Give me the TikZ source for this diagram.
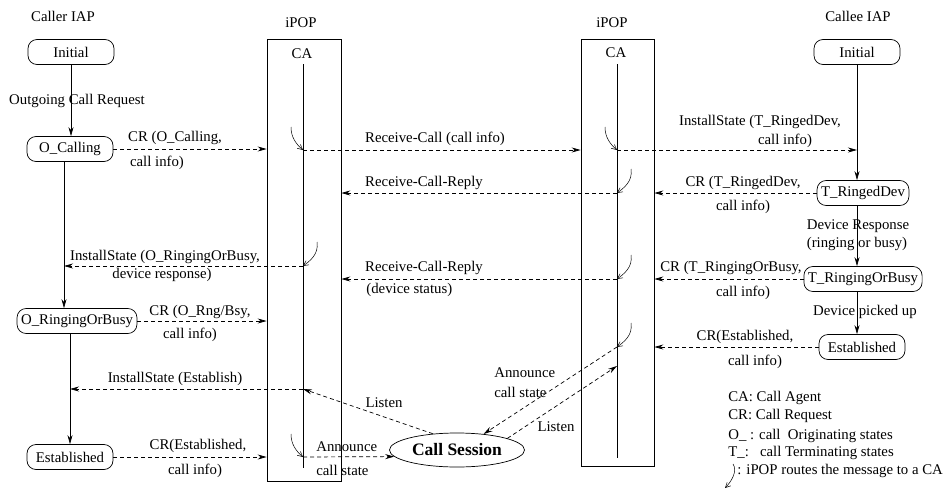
\documentclass[tikz,border=0pt]{standalone}
\usepackage{fontspec}
\setmainfont{Liberation Serif}
\usetikzlibrary{arrows.meta,shapes.geometric}

\tikzset{
  state/.style={draw, rounded corners=9pt, minimum width=86pt, minimum height=25pt, inner xsep=4pt, inner ysep=0pt},
  pop/.style={draw},
  lbl/.style={inner sep=0pt},
  trans/.style={-{Stealth[length=9pt,width=5pt]}},
  msg/.style={dash pattern=on 4pt off 3pt, -{Stealth[length=9pt,width=5pt]}},
  route/.style={line width=0.5pt, -{Straight Barb[length=5pt,width=5pt]}},
}

\begin{document}
\begin{tikzpicture}[x=1pt,y=-1pt,line width=0.7pt,font=\fontsize{14.8}{16}\selectfont]
\useasboundingbox (0,0) rectangle (951,490);

% column titles
\node[lbl] (caller) at (63,16) {Caller IAP};
\node[lbl] (callee) at (858,16) {Callee IAP};
\node[lbl] (ipopL) at (301,23) {iPOP};
\node[lbl] (ipopR) at (612,23) {iPOP};

% the two iPOPs and their call agents
\node[pop, minimum width=74pt, minimum height=442pt] (popL) at (304,260) {};
\node[pop, minimum width=73pt, minimum height=427pt] (popR) at (617.5,252.5) {};
\node[lbl] (caL) at (302,54) {CA};
\node[lbl] (caR) at (616,53) {CA};
\draw (303,64) -- (303,468);
\draw (617,64) -- (617,458);
\foreach \n/\y in {L1/150,L2/266,L3/389,L4/457}
	\coordinate (\n) at (303,\y);
\foreach \n/\y in {R1/150,R2/193,R3/279,R4/347,R5/366}
	\coordinate (\n) at (617,\y);

% caller states
\node[state] (oInit) at (71,52) {Initial};
\node[state] (oCall) at (70,149) {O\_Calling};
\node[state] (oRob) at (77,321) {O\_RingingOrBusy};
\node[state] (oEst) at (70,457) {Established};

% callee states
\node[state] (tInit) at (857,52) {Initial};
\node[state] (tRing) at (863,193) {T\_RingedDev};
\node[state] (tRob) at (863,279) {T\_RingingOrBusy};
\node[state] (tEst) at (862,347) {Established};

\node[ellipse, draw, minimum width=135pt, minimum height=34pt, inner sep=0pt, font=\fontsize{17.5}{19}\selectfont\bfseries] (sess) at (457,450) {Call Session};

% state transitions
\coordinate (oLine) at ([xshift=-6pt]oCall.south);
\draw[trans] (oInit) -- (oInit |- oCall.north);
\draw[trans] (oLine) -- (oLine |- oRob.north);
\draw[trans] (oRob.south -| oEst.north) -- (oEst.north);
\draw[trans] (tInit) -- (tInit |- tRing.north);
\draw[trans] (tRing.south -| tInit) -- (tInit |- tRob.north);
\draw[trans] (tRob.south -| tInit) -- (tInit |- tEst.north);

% messages
\draw[msg] (oCall) -- (oCall -| popL.west);
\draw[msg] (oRob) -- (oRob -| popL.west);
\draw[msg] (oEst) -- (oEst -| popL.west);
\draw[msg] (L2) -- (L2 -| oLine);
\draw[msg] (L3) -- (L3 -| oEst.north);
\draw[msg] (L1) -- (L1 -| popR.west);
\draw[msg] (R2) -- (R2 -| popL.east);
\draw[msg] (R3) -- (R3 -| popL.east);
\draw[msg] (R1) -- (R1 -| tInit);
\draw[msg] (tRing) -- (tRing -| popR.east);
\draw[msg] (tRob) -- (tRob -| popR.east);
\draw[msg] (tEst) -- (tEst -| popR.east);
\draw[msg] (L4) -- (sess.186);
\draw[msg] (sess.146) -- (L3);
\draw[msg] (R4) -- (sess.31);
\draw[msg] (sess.13) -- (R5);

% iPOP routing hooks
\foreach \p in {L1,L4,R1}
	\draw[route] (\p) ++(-12,-23) .. controls +(0,10) and +(-7,-6) .. (\p);
\foreach \p in {L2,R2,R3,R4}
	\draw[route] (\p) ++(14,-24) .. controls +(2,12) and +(7,-5) .. (\p);

% transition labels
\node[lbl] (tOut) at (77,101) {Outgoing Call Request};
\node[lbl] (tResp) at (858,226) {Device Response};
\node[lbl] (tResp2) at (857,244) {(ringing or busy)};
\node[lbl] (tPick) at (865,312) {Device picked up};

% message labels, caller side
\node[lbl] (m1a) at (175,138) {CR (O\_Calling,};
\node[lbl] (m1b) at (157,163) {call info)};
\node[lbl] (m2a) at (165,257) {InstallState (O\_RingingOrBusy,};
\node[lbl] (m2b) at (162,275) {device response)};
\node[lbl] (m3a) at (200,312) {CR (O\_Rng/Bsy,};
\node[lbl] (m3b) at (190,335) {call info)};
\node[lbl] (m4) at (175,379) {InstallState (Establish)};
\node[lbl] (m5a) at (198,446) {CR(Established,};
\node[lbl] (m5b) at (195,471) {call info)};

% message labels between the iPOPs
\node[lbl] (m6) at (435,139) {Receive-Call (call info)};
\node[lbl] (m7) at (424,183) {Receive-Call-Reply};
\node[lbl] (m8a) at (424,268) {Receive-Call-Reply};
\node[lbl, anchor=west] (m8b) at (366,290) {(device status)};
\node[lbl] (m9) at (384,403) {Listen};
\node[lbl, anchor=west] (m10a) at (316,447) {Announce};
\node[lbl, anchor=west] (m10b) at (316,470) {call state};
\node[lbl, anchor=west] (m11a) at (494,373) {Announce};
\node[lbl, anchor=west] (m11b) at (494,392) {call state};
\node[lbl] (m12) at (556,427) {Listen};

% message labels, callee side
\node[lbl] (n1a) at (760,122) {InstallState (T\_RingedDev,};
\node[lbl] (n1b) at (785,141) {call info)};
\node[lbl] (n2a) at (743,183) {CR (T\_RingedDev,};
\node[lbl] (n2b) at (743,207) {call info)};
\node[lbl] (n3a) at (731,268) {CR (T\_RingingOrBusy,};
\node[lbl] (n3b) at (743,293) {call info)};
\node[lbl] (n4a) at (745,337) {CR(Established,};
\node[lbl] (n4b) at (755,362) {call info)};

% key
\node[lbl, anchor=west] (k1) at (728,398) {CA: Call Agent};
\node[lbl, anchor=west] (k2) at (728,416) {CR: Call Request};
\node[lbl, anchor=west] (k3) at (728,436) {O\_ : call\ \ Originating states};
\node[lbl, anchor=west] (k4) at (728,453) {T\_:\ \ \ call Terminating states};
\node[lbl, anchor=west] (k5) at (737,471) {: iPOP routes the message to a CA};
\coordinate (kHook) at (725,488);
\draw[route] (kHook) ++(8,-24) .. controls +(5,7) and +(6,-6) .. (kHook);
\end{tikzpicture}
\end{document}
